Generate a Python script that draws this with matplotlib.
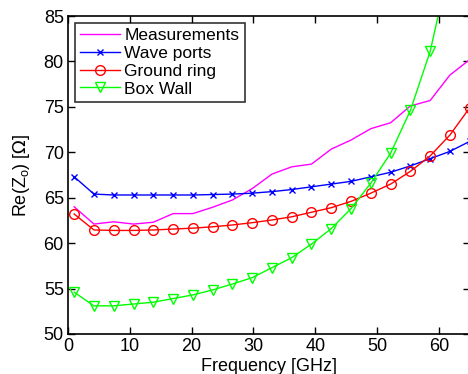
import matplotlib.pyplot as plt

plt.rcParams['font.family'] = ['Liberation Sans', 'DejaVu Sans']

# frequency samples [GHz]
freq = [1.0, 4.2, 7.4, 10.6, 13.8, 17.0, 20.2, 23.4, 26.6, 29.8, 33.0,
        36.2, 39.4, 42.6, 45.8, 49.0, 52.2, 55.4, 58.6, 61.8, 65.0]

measurements = [64.0, 62.1, 62.35, 62.1, 62.3, 63.25, 63.25, 63.95, 64.75, 66.0, 67.6,
                68.4, 68.7, 70.35, 71.35, 72.6, 73.25, 75.1, 75.7, 78.5, 80.2]
wave_ports = [67.3, 65.4, 65.3, 65.3, 65.3, 65.3, 65.3, 65.35, 65.4, 65.5, 65.67,
              65.9, 66.2, 66.5, 66.8, 67.3, 67.8, 68.5, 69.3, 70.1, 71.2]
ground_ring = [63.2, 61.45, 61.4, 61.4, 61.45, 61.55, 61.65, 61.8, 62.0, 62.25, 62.55,
               62.9, 63.4, 63.9, 64.6, 65.5, 66.5, 67.9, 69.6, 71.9, 74.9]
box_wall = [54.6, 53.1, 53.1, 53.3, 53.5, 53.9, 54.3, 54.85, 55.5, 56.2, 57.3,
            58.4, 59.9, 61.6, 63.8, 66.6, 69.9, 74.6, 81.1, 90.8, 101.0]

fig = plt.figure(figsize=(4.68, 3.74), dpi=100)
ax = fig.add_axes([68 / 468, 40 / 374, 401.7 / 468, 318 / 374])

ax.plot(freq, measurements, color='#ff00ff', lw=1.0, label='Measurements')
ax.plot(freq, wave_ports, color='#0000ff', lw=1.0, marker='x', ms=5, mew=1.0,
        label='Wave ports')
ax.plot(freq, ground_ring, color='#ff0000', lw=1.0, marker='o', ms=7, mew=1.0,
        mfc='none', label='Ground ring')
ax.plot(freq, box_wall, color='#00ff00', lw=1.0, marker='v', ms=7, mew=1.0,
        mfc='none', label='Box Wall')

ax.set_xlim(0, 65)
ax.set_ylim(50, 85)
ax.set_xticks([0, 10, 20, 30, 40, 50, 60])
ax.set_yticks([50, 55, 60, 65, 70, 75, 80, 85])
ax.tick_params(direction='in', top=True, right=True, labelsize=13, length=5, width=1,
               pad=3)
for s in ax.spines.values():
    s.set_linewidth(1.2)

ax.set_xlabel('Frequency [GHz]', fontsize=13, labelpad=2)
ax.set_ylabel(r'Re(Z$_\mathregular{o}$) [$\Omega$]', fontsize=13, labelpad=8)

leg = ax.legend(loc='upper left', fontsize=12.5, frameon=True, fancybox=False,
                edgecolor='black', handlelength=2.3, handletextpad=0.25,
                borderpad=0.3, labelspacing=0.15, borderaxespad=0.4)
leg.get_frame().set_linewidth(1.2)

fig.savefig('out.png', dpi=100)
